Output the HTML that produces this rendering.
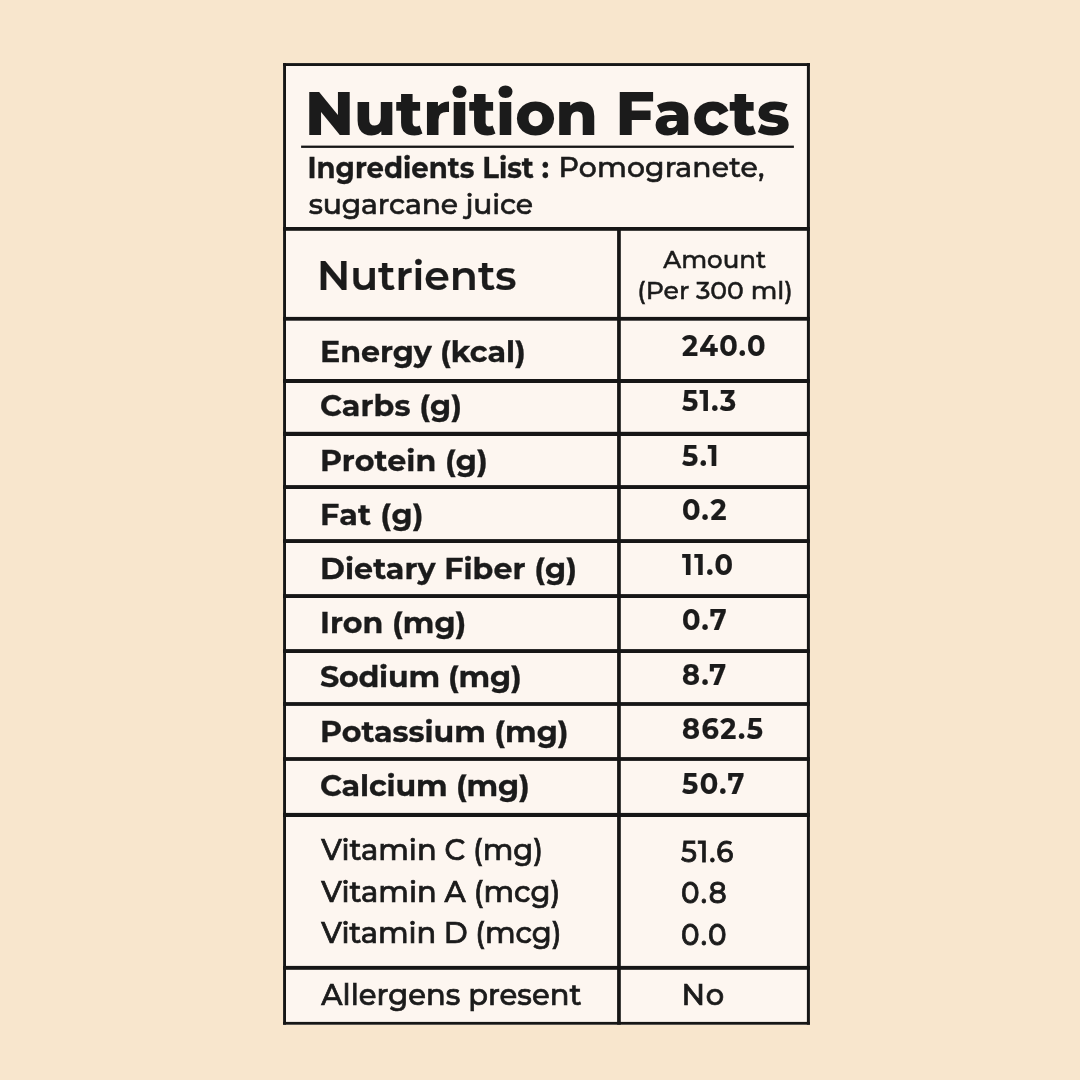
<!DOCTYPE html>
<html lang="en"><head><meta charset="utf-8"><title>Nutrition Facts</title>
<style>
html,body{margin:0;padding:0}
body{width:1080px;height:1080px;background:#f8e6cd;position:relative;overflow:hidden;color:#1b1b1b;font-family:Montserrat,"DejaVu Sans","Liberation Sans",sans-serif}
.nom body{font-family:"DejaVu Sans","Liberation Sans",sans-serif}
.g{position:absolute;left:0;top:0}
.t{position:absolute;white-space:nowrap;transform-origin:0 0}
#e0{left:304.95px;top:83.34px;font-size:60.77px;line-height:60.77px;font-weight:800;-webkit-text-stroke:0;}
.nom #e0{left:304.86px;top:85.58px;font-size:58.35px;line-height:58.35px;font-weight:700;-webkit-text-stroke:0.9px #1b1b1b;transform:scaleX(0.9912);transform-origin:0 0;letter-spacing:0}
#e1{left:307.39px;top:154.78px;font-size:27.58px;line-height:27.58px;font-weight:700;-webkit-text-stroke:0.3px #1b1b1b;transform:scale(1.0,1.034);transform-origin:0 23.72px;}
.nom #e1{left:307.33px;top:154.5px;font-size:27.38px;line-height:27.38px;font-weight:700;-webkit-text-stroke:0;transform:scaleX(0.9223);transform-origin:0 0;letter-spacing:0}
#e2{left:558.62px;top:153.3px;font-size:28.26px;line-height:28.26px;font-weight:500;-webkit-text-stroke:0.6px #1b1b1b;letter-spacing:0.169px;}
.nom #e2{left:558.63px;top:153.81px;font-size:27.14px;line-height:27.14px;font-weight:400;-webkit-text-stroke:0.55px #1b1b1b;transform:scaleX(1.0926);transform-origin:0 0;letter-spacing:0}
#e3{left:308.68px;top:189.95px;font-size:28.26px;line-height:28.26px;font-weight:500;-webkit-text-stroke:0.6px #1b1b1b;letter-spacing:-0.133px;}
.nom #e3{left:307.81px;top:191.46px;font-size:27.14px;line-height:27.14px;font-weight:400;-webkit-text-stroke:0.55px #1b1b1b;transform:scaleX(1.0566);transform-origin:0 0;letter-spacing:0}
#e4{left:316.91px;top:254.61px;font-size:41.03px;line-height:41.03px;font-weight:600;-webkit-text-stroke:0.25px #1b1b1b;transform:scale(1.0,0.966);transform-origin:0 35.29px;}
.nom #e4{left:317.36px;top:256.93px;font-size:38.06px;line-height:38.06px;font-weight:400;-webkit-text-stroke:1.3px #1b1b1b;transform:scaleX(1.1341);transform-origin:0 0;letter-spacing:0}
#e5{left:663.25px;top:247.2px;font-size:24.53px;line-height:24.53px;font-weight:500;-webkit-text-stroke:0.5px #1b1b1b;}
.nom #e5{left:663.13px;top:248.51px;font-size:23.55px;line-height:23.55px;font-weight:400;-webkit-text-stroke:0.55px #1b1b1b;transform:scaleX(1.1134);transform-origin:0 0;letter-spacing:0}
#e6{left:637.26px;top:278.38px;font-size:25.14px;line-height:25.14px;font-weight:500;-webkit-text-stroke:0.5px #1b1b1b;transform:scale(1.0,0.96);transform-origin:0 21.62px;}
.nom #e6{left:637.52px;top:278.53px;font-size:23.17px;line-height:23.17px;font-weight:400;-webkit-text-stroke:0.55px #1b1b1b;transform:scaleX(1.0838);transform-origin:0 0;letter-spacing:0}
#e7{left:319.99px;top:337.14px;font-size:30.15px;line-height:30.15px;font-weight:700;-webkit-text-stroke:0.3px #1b1b1b;transform:scale(1.0,0.975);transform-origin:0 25.93px;letter-spacing:-0.062px;}
.nom #e7{left:320.61px;top:339.36px;font-size:28.23px;line-height:28.23px;font-weight:700;-webkit-text-stroke:0;transform:scaleX(0.9788);transform-origin:0 0;letter-spacing:0}
#e8{left:319.99px;top:391.37px;font-size:30.15px;line-height:30.15px;font-weight:700;-webkit-text-stroke:0.3px #1b1b1b;transform:scale(1.0,0.975);transform-origin:0 25.93px;letter-spacing:0.116px;}
.nom #e8{left:320.73px;top:393.58px;font-size:28.23px;line-height:28.23px;font-weight:700;-webkit-text-stroke:0;transform:scaleX(0.9742);transform-origin:0 0;letter-spacing:0}
#e9{left:319.99px;top:445.59px;font-size:30.15px;line-height:30.15px;font-weight:700;-webkit-text-stroke:0.3px #1b1b1b;transform:scale(1.0,0.975);transform-origin:0 25.93px;letter-spacing:0.091px;}
.nom #e9{left:319.92px;top:447.81px;font-size:28.23px;line-height:28.23px;font-weight:700;-webkit-text-stroke:0;transform:scaleX(0.977);transform-origin:0 0;letter-spacing:0}
#e10{left:319.99px;top:499.82px;font-size:30.15px;line-height:30.15px;font-weight:700;-webkit-text-stroke:0.3px #1b1b1b;transform:scale(1.0,0.975);transform-origin:0 25.93px;letter-spacing:0.329px;}
.nom #e10{left:319.91px;top:502.03px;font-size:28.23px;line-height:28.23px;font-weight:700;-webkit-text-stroke:0;transform:scaleX(0.9817);transform-origin:0 0;letter-spacing:0}
#e11{left:319.99px;top:554.04px;font-size:30.15px;line-height:30.15px;font-weight:700;-webkit-text-stroke:0.3px #1b1b1b;transform:scale(1.0,0.975);transform-origin:0 25.93px;letter-spacing:0.058px;}
.nom #e11{left:319.93px;top:556.26px;font-size:28.23px;line-height:28.23px;font-weight:700;-webkit-text-stroke:0;transform:scaleX(0.9713);transform-origin:0 0;letter-spacing:0}
#e12{left:319.99px;top:608.27px;font-size:30.15px;line-height:30.15px;font-weight:700;-webkit-text-stroke:0.3px #1b1b1b;transform:scale(1.0,0.975);transform-origin:0 25.93px;letter-spacing:0.038px;}
.nom #e12{left:319.9px;top:610.48px;font-size:28.23px;line-height:28.23px;font-weight:700;-webkit-text-stroke:0;transform:scaleX(0.9845);transform-origin:0 0;letter-spacing:0}
#e13{left:319.99px;top:662.49px;font-size:30.15px;line-height:30.15px;font-weight:700;-webkit-text-stroke:0.3px #1b1b1b;transform:scale(1.0,0.975);transform-origin:0 25.93px;letter-spacing:-0.238px;}
.nom #e13{left:320.43px;top:663.71px;font-size:28.23px;line-height:28.23px;font-weight:700;-webkit-text-stroke:0;transform:scaleX(0.9951);transform-origin:0 0;letter-spacing:0}
#e14{left:319.99px;top:716.72px;font-size:30.15px;line-height:30.15px;font-weight:700;-webkit-text-stroke:0.3px #1b1b1b;transform:scale(1.0,0.975);transform-origin:0 25.93px;letter-spacing:-0.03px;}
.nom #e14{left:319.88px;top:718.93px;font-size:28.23px;line-height:28.23px;font-weight:700;-webkit-text-stroke:0;transform:scaleX(0.9934);transform-origin:0 0;letter-spacing:0}
#e15{left:319.99px;top:770.94px;font-size:30.15px;line-height:30.15px;font-weight:700;-webkit-text-stroke:0.3px #1b1b1b;transform:scale(1.0,0.975);transform-origin:0 25.93px;letter-spacing:-0.138px;}
.nom #e15{left:320.99px;top:773.16px;font-size:28.23px;line-height:28.23px;font-weight:700;-webkit-text-stroke:0;transform:scaleX(1.0002);transform-origin:0 0;letter-spacing:0}
#e16{left:681.56px;top:331.05px;font-size:29.58px;line-height:29.58px;font-weight:700;-webkit-text-stroke:0.2px #1b1b1b;transform:scale(0.92,1.0);transform-origin:0 25.44px;letter-spacing:1.503px;}
.nom #e16{left:680.13px;top:332.63px;font-size:28.4px;line-height:28.4px;font-weight:700;-webkit-text-stroke:0;transform:scaleX(0.9559);transform-origin:0 0;letter-spacing:0}
#e17{left:681.56px;top:385.81px;font-size:29.58px;line-height:29.58px;font-weight:700;-webkit-text-stroke:0.2px #1b1b1b;transform:scale(0.92,1.0);transform-origin:0 25.44px;letter-spacing:1.345px;}
.nom #e17{left:680.44px;top:387.39px;font-size:28.4px;line-height:28.4px;font-weight:700;-webkit-text-stroke:0;transform:scaleX(0.8713);transform-origin:0 0;letter-spacing:0}
#e18{left:681.56px;top:440.56px;font-size:29.58px;line-height:29.58px;font-weight:700;-webkit-text-stroke:0.2px #1b1b1b;transform:scale(0.92,1.0);transform-origin:0 25.44px;letter-spacing:1.6px;}
.nom #e18{left:680.44px;top:442.14px;font-size:28.4px;line-height:28.4px;font-weight:700;-webkit-text-stroke:0;transform:scaleX(0.8713);transform-origin:0 0;letter-spacing:0}
#e19{left:681.56px;top:495.32px;font-size:29.58px;line-height:29.58px;font-weight:700;-webkit-text-stroke:0.2px #1b1b1b;transform:scale(0.92,1.0);transform-origin:0 25.44px;letter-spacing:1.6px;}
.nom #e19{left:680.93px;top:496.9px;font-size:28.4px;line-height:28.4px;font-weight:700;-webkit-text-stroke:0;transform:scaleX(0.9669);transform-origin:0 0;letter-spacing:0}
#e20{left:681.56px;top:550.07px;font-size:29.58px;line-height:29.58px;font-weight:700;-webkit-text-stroke:0.2px #1b1b1b;transform:scale(0.92,1.0);transform-origin:0 25.44px;letter-spacing:1.6px;}
.nom #e20{left:678.85px;top:551.65px;font-size:28.4px;line-height:28.4px;font-weight:700;-webkit-text-stroke:0;transform:scaleX(0.8713);transform-origin:0 0;letter-spacing:0}
#e21{left:681.56px;top:604.83px;font-size:29.58px;line-height:29.58px;font-weight:700;-webkit-text-stroke:0.2px #1b1b1b;transform:scale(0.92,1.0);transform-origin:0 25.44px;letter-spacing:1.6px;}
.nom #e21{left:680.94px;top:606.41px;font-size:28.4px;line-height:28.4px;font-weight:700;-webkit-text-stroke:0;transform:scaleX(0.9575);transform-origin:0 0;letter-spacing:0}
#e22{left:681.56px;top:659.58px;font-size:29.58px;line-height:29.58px;font-weight:700;-webkit-text-stroke:0.2px #1b1b1b;transform:scale(0.92,1.0);transform-origin:0 25.44px;letter-spacing:1.285px;}
.nom #e22{left:680.74px;top:661.16px;font-size:28.4px;line-height:28.4px;font-weight:700;-webkit-text-stroke:0;transform:scaleX(0.918);transform-origin:0 0;letter-spacing:0}
#e23{left:681.56px;top:714.34px;font-size:29.58px;line-height:29.58px;font-weight:700;-webkit-text-stroke:0.2px #1b1b1b;transform:scale(0.92,1.0);transform-origin:0 25.44px;letter-spacing:1.6px;}
.nom #e23{left:680.72px;top:715.92px;font-size:28.4px;line-height:28.4px;font-weight:700;-webkit-text-stroke:0;transform:scaleX(0.9269);transform-origin:0 0;letter-spacing:0}
#e24{left:681.56px;top:769.09px;font-size:29.58px;line-height:29.58px;font-weight:700;-webkit-text-stroke:0.2px #1b1b1b;transform:scale(0.92,1.0);transform-origin:0 25.44px;letter-spacing:1.6px;}
.nom #e24{left:680.29px;top:770.67px;font-size:28.4px;line-height:28.4px;font-weight:700;-webkit-text-stroke:0;transform:scaleX(0.945);transform-origin:0 0;letter-spacing:0}
#e25{left:321.28px;top:836.09px;font-size:28.97px;line-height:28.97px;font-weight:500;-webkit-text-stroke:0.7px #1b1b1b;}
.nom #e25{left:321.0px;top:836.63px;font-size:27.82px;line-height:27.82px;font-weight:400;-webkit-text-stroke:0.55px #1b1b1b;transform:scaleX(1.0561);transform-origin:0 0;letter-spacing:0}
#e26{left:321.28px;top:877.59px;font-size:28.97px;line-height:28.97px;font-weight:500;-webkit-text-stroke:0.7px #1b1b1b;letter-spacing:0.023px;}
.nom #e26{left:321.0px;top:879.13px;font-size:27.82px;line-height:27.82px;font-weight:400;-webkit-text-stroke:0.55px #1b1b1b;transform:scaleX(1.063);transform-origin:0 0;letter-spacing:0}
#e27{left:321.28px;top:919.34px;font-size:28.97px;line-height:28.97px;font-weight:500;-webkit-text-stroke:0.7px #1b1b1b;letter-spacing:-0.084px;}
.nom #e27{left:321.0px;top:919.88px;font-size:27.82px;line-height:27.82px;font-weight:400;-webkit-text-stroke:0.55px #1b1b1b;transform:scaleX(1.0567);transform-origin:0 0;letter-spacing:0}
#e28{left:321.28px;top:981.19px;font-size:28.97px;line-height:28.97px;font-weight:500;-webkit-text-stroke:0.7px #1b1b1b;letter-spacing:0.052px;}
.nom #e28{left:320.55px;top:981.73px;font-size:27.82px;line-height:27.82px;font-weight:400;-webkit-text-stroke:0.55px #1b1b1b;transform:scaleX(1.0686);transform-origin:0 0;letter-spacing:0}
#e29{left:681.03px;top:836.95px;font-size:30.17px;line-height:30.17px;font-weight:500;-webkit-text-stroke:0.85px #1b1b1b;transform:scale(0.92,1.0);transform-origin:0 25.95px;letter-spacing:1.104px;}
.nom #e29{left:680.01px;top:837.57px;font-size:28.97px;line-height:28.97px;font-weight:400;-webkit-text-stroke:0.55px #1b1b1b;transform:scaleX(0.9789);transform-origin:0 0;letter-spacing:0}
#e30{left:681.03px;top:878.25px;font-size:30.17px;line-height:30.17px;font-weight:500;-webkit-text-stroke:0.85px #1b1b1b;transform:scale(0.92,1.0);transform-origin:0 25.95px;letter-spacing:1.6px;}
.nom #e30{left:680.34px;top:878.87px;font-size:28.97px;line-height:28.97px;font-weight:400;-webkit-text-stroke:0.55px #1b1b1b;transform:scaleX(1.0414);transform-origin:0 0;letter-spacing:0}
#e31{left:681.03px;top:919.95px;font-size:30.17px;line-height:30.17px;font-weight:500;-webkit-text-stroke:0.85px #1b1b1b;transform:scale(0.92,1.0);transform-origin:0 25.95px;letter-spacing:1.6px;}
.nom #e31{left:680.31px;top:920.57px;font-size:28.97px;line-height:28.97px;font-weight:400;-webkit-text-stroke:0.55px #1b1b1b;transform:scaleX(1.0589);transform-origin:0 0;letter-spacing:0}
#e32{left:681.45px;top:979.68px;font-size:28.98px;line-height:28.98px;font-weight:500;-webkit-text-stroke:0.7px #1b1b1b;letter-spacing:0.9px;}
.nom #e32{left:681.2px;top:982.23px;font-size:27.83px;line-height:27.83px;font-weight:400;-webkit-text-stroke:0.55px #1b1b1b;transform:scaleX(1.1998);transform-origin:0 0;letter-spacing:0}
</style></head><body>
<svg class="g" width="1080" height="1080" viewBox="0 0 1080 1080"><rect x="283.1" y="63.1" width="526.8" height="961.6" fill="#fdf6f0"/><rect x="283.1" y="63.1" width="526.8" height="2.9" fill="#161616"/><rect x="283.1" y="1021.9" width="526.8" height="2.8" fill="#161616"/><rect x="283.1" y="63.1" width="2.9" height="961.6" fill="#161616"/><rect x="806.9" y="63.1" width="3.0" height="961.6" fill="#161616"/><rect x="283.1" y="227.0" width="526.8" height="3.8" fill="#161616"/><rect x="283.1" y="316.9" width="526.8" height="3.8" fill="#161616"/><rect x="283.1" y="379.0" width="526.8" height="4.0" fill="#161616"/><rect x="283.1" y="431.8" width="526.8" height="4.2" fill="#161616"/><rect x="283.1" y="485.1" width="526.8" height="3.9" fill="#161616"/><rect x="283.1" y="539.1" width="526.8" height="3.9" fill="#161616"/><rect x="283.1" y="594.1" width="526.8" height="3.9" fill="#161616"/><rect x="283.1" y="649.1" width="526.8" height="3.9" fill="#161616"/><rect x="283.1" y="702.1" width="526.8" height="3.8" fill="#161616"/><rect x="283.1" y="757.1" width="526.8" height="3.8" fill="#161616"/><rect x="283.1" y="812.9" width="526.8" height="4.1" fill="#161616"/><rect x="283.1" y="965.9" width="526.8" height="3.9" fill="#161616"/><rect x="617.1" y="228" width="3.7" height="796.7" fill="#161616"/><rect x="301.1" y="145.6" width="492.8" height="2.3" fill="#161616"/></svg>
<div class="t" id="e0">Nutrition Facts</div>
<div class="t" id="e1">Ingredients List :</div>
<div class="t" id="e2">Pomogranete,</div>
<div class="t" id="e3">sugarcane juice</div>
<div class="t" id="e4">Nutrients</div>
<div class="t" id="e5">Amount</div>
<div class="t" id="e6">(Per 300 ml)</div>
<div class="t" id="e7">Energy (kcal)</div>
<div class="t" id="e8">Carbs (g)</div>
<div class="t" id="e9">Protein (g)</div>
<div class="t" id="e10">Fat (g)</div>
<div class="t" id="e11">Dietary Fiber (g)</div>
<div class="t" id="e12">Iron (mg)</div>
<div class="t" id="e13">Sodium (mg)</div>
<div class="t" id="e14">Potassium (mg)</div>
<div class="t" id="e15">Calcium (mg)</div>
<div class="t" id="e16">240.0</div>
<div class="t" id="e17">51.3</div>
<div class="t" id="e18">5.1</div>
<div class="t" id="e19">0.2</div>
<div class="t" id="e20">11.0</div>
<div class="t" id="e21">0.7</div>
<div class="t" id="e22">8.7</div>
<div class="t" id="e23">862.5</div>
<div class="t" id="e24">50.7</div>
<div class="t" id="e25">Vitamin C (mg)</div>
<div class="t" id="e26">Vitamin A (mcg)</div>
<div class="t" id="e27">Vitamin D (mcg)</div>
<div class="t" id="e28">Allergens present</div>
<div class="t" id="e29">51.6</div>
<div class="t" id="e30">0.8</div>
<div class="t" id="e31">0.0</div>
<div class="t" id="e32">No</div>
<script>
(function(){
  try{
    var s=document.createElement('span');
    s.style.cssText='position:absolute;left:-9999px;top:0;visibility:hidden;white-space:nowrap;font-size:60px;font-weight:700;font-family:monospace';
    s.textContent='Nutrition Facts 862.5';
    document.body.appendChild(s);
    var a=s.getBoundingClientRect().width;
    s.style.fontFamily='Montserrat,monospace';
    var b=s.getBoundingClientRect().width;
    document.body.removeChild(s);
    if(Math.abs(a-b)<0.5){document.documentElement.className='nom';}
  }catch(e){}
})();
</script>
</body></html>
